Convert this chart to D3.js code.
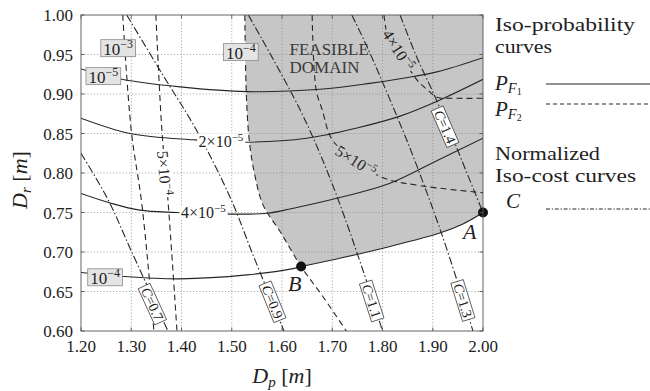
<!DOCTYPE html>
<html>
<head>
<meta charset="utf-8">
<title>Iso-probability and iso-cost curves</title>
<script src="https://cdn.jsdelivr.net/npm/d3@7/dist/d3.min.js"></script>
<style>
  html, body { margin: 0; padding: 0; background: #fff; }
  svg { display: block; font-family: "Liberation Serif", "DejaVu Serif", serif; }
</style>
</head>
<body>
<svg id="chart" width="650" height="391" font-family="Liberation Serif, DejaVu Serif, serif"></svg>
<script>
// ---- axis ticks ----
const dpTicks = [1.20, 1.30, 1.40, 1.50, 1.60, 1.70, 1.80, 1.90, 2.00];
const drTicks = [0.60, 0.65, 0.70, 0.75, 0.80, 0.85, 0.90, 0.95, 1.00];

// ---- iso-probability curves of the first failure mode P_F1, points [Dp, Dr] ----
const pf1_1e5 = [[1.20, 0.9316], [1.281, 0.9186], [1.397, 0.909], [1.530, 0.903], [1.676, 0.906],
                 [1.775, 0.9135], [1.841, 0.920], [1.908, 0.928], [2.00, 0.946]];
const pf1_2e5 = [[1.20, 0.8693], [1.2975, 0.850], [1.4235, 0.842], [1.530, 0.839], [1.649, 0.844],
                 [1.749, 0.857], [1.835, 0.872], [1.911, 0.8915], [2.00, 0.9186]];
const pf1_4e5 = [[1.20, 0.774], [1.258, 0.762], [1.317, 0.753], [1.390, 0.750], [1.497, 0.748],
                 [1.570, 0.749], [1.616, 0.7545], [1.709, 0.768], [1.815, 0.787], [1.911, 0.8165], [2.00, 0.844]];
const pf1_1e4 = [[1.20, 0.674], [1.284, 0.669], [1.397, 0.666], [1.530, 0.671], [1.622, 0.679],
                 [1.638, 0.6816], [1.715, 0.692], [1.815, 0.707], [1.914, 0.724], [1.96, 0.7355], [2.00, 0.75]];

// ---- iso-probability curves of the second failure mode P_F2 ----
const pf2_1e3 = [[1.283, 1.00], [1.300, 0.854], [1.320, 0.766], [1.334, 0.68], [1.345, 0.60]];
const pf2_5e4 = [[1.349, 1.00], [1.361, 0.854], [1.373, 0.766], [1.391, 0.60]];
const pf2_1e4 = [[1.526, 1.00], [1.529, 0.90], [1.535, 0.84], [1.545, 0.80], [1.562, 0.76],
                 [1.598, 0.724], [1.638, 0.6816], [1.682, 0.643], [1.728, 0.60]];
const pf2_5e5 = [[1.660, 1.00], [1.668, 0.905], [1.680, 0.880], [1.700, 0.842], [1.747, 0.816],
                 [1.801, 0.794], [1.875, 0.784], [2.00, 0.775]];
const pf2_4e5 = [[1.803, 1.00], [1.808, 0.980], [1.820, 0.966], [1.834, 0.952], [1.852, 0.933],
                 [1.871, 0.916], [1.890, 0.905], [1.910, 0.8955], [1.94, 0.8946], [2.00, 0.8946]];

// ---- normalized iso-cost curves C ----
const cost07 = [[1.20, 0.825], [1.254, 0.766], [1.301, 0.70], [1.373, 0.60]];
const cost09 = [[1.291, 1.00], [1.362, 0.925], [1.430, 0.854], [1.499, 0.766], [1.540, 0.70], [1.604, 0.60]];
const cost11 = [[1.533, 1.00], [1.636, 0.880], [1.697, 0.791], [1.761, 0.677], [1.800, 0.60]];
const cost13 = [[1.739, 1.00], [1.772, 0.956], [1.848, 0.842], [1.879, 0.791], [1.915, 0.728], [1.961, 0.639], [1.980, 0.60]];
const cost14 = [[1.835, 1.00], [1.866, 0.95], [1.902, 0.90], [1.936, 0.85], [1.968, 0.80], [2.00, 0.75]];

// ---- optimal design points ----
const designPoints = [
  { name: "A", dp: 2.00, dr: 0.75 },
  { name: "B", dp: 1.638, dr: 0.6816 }
];

const pf1Series = [
  { level: 1e-5, pts: pf1_1e5 }, { level: 2e-5, pts: pf1_2e5 },
  { level: 4e-5, pts: pf1_4e5 }, { level: 1e-4, pts: pf1_1e4 }
];
const pf2Series = [
  { level: 1e-3, pts: pf2_1e3 }, { level: 5e-4, pts: pf2_5e4 }, { level: 1e-4, pts: pf2_1e4 },
  { level: 5e-5, pts: pf2_5e5 }, { level: 4e-5, pts: pf2_4e5 }
];
const costSeries = [
  { level: 0.7, pts: cost07 }, { level: 0.9, pts: cost09 }, { level: 1.1, pts: cost11 },
  { level: 1.3, pts: cost13 }, { level: 1.4, pts: cost14 }
];

// ---- layout ----
const svg = d3.select("#chart");
const plot = { left: 81, right: 483, top: 15, bottom: 331 };
const x = d3.scaleLinear().domain([1.2, 2.0]).range([plot.left, plot.right]);
const y = d3.scaleLinear().domain([0.6, 1.0]).range([plot.bottom, plot.top]);

const INK = "#262626";
const FEASIBLE_FILL = "#c6c6c6";
const DASH = "6,4";
const DASHDOT = "8,2.5,1.5,2.5";

svg.append("defs").append("clipPath").attr("id", "plotClip")
  .append("rect").attr("x", plot.left).attr("y", plot.top)
  .attr("width", plot.right - plot.left).attr("height", plot.bottom - plot.top);

const line = d3.line().x(d => x(d[0])).y(d => y(d[1])).curve(d3.curveCatmullRom.alpha(0.5));

const area = svg.append("g").attr("clip-path", "url(#plotClip)");

// feasible domain: right of the P_F2 = 1e-4 curve down to B, above P_F1 = 1e-4 from B to A
const [ptA, ptB] = designPoints;
const iB2 = pf2_1e4.findIndex(p => p[0] === ptB.dp && p[1] === ptB.dr);
const iB1 = pf1_1e4.findIndex(p => p[0] === ptB.dp && p[1] === ptB.dr);
const leftEdge = line(pf2_1e4.slice(0, iB2 + 1));
const lowerEdge = line(pf1_1e4.slice(iB1)).replace(/^M/, "L");
area.append("path")
  .attr("d", leftEdge + lowerEdge + `L${x(2.0)},${y(1.0)}Z`)
  .attr("fill", FEASIBLE_FILL);

// dotted grid
const grid = area.append("g").attr("stroke", "#8c8c8c").attr("stroke-width", 0.8)
  .attr("stroke-dasharray", "1.1,2.1");
grid.selectAll("line.gx").data(dpTicks.slice(1, -1)).join("line")
  .attr("x1", d => x(d)).attr("x2", d => x(d)).attr("y1", plot.top).attr("y2", plot.bottom);
grid.selectAll("line.gy").data(drTicks.slice(1, -1)).join("line")
  .attr("y1", d => y(d)).attr("y2", d => y(d)).attr("x1", plot.left).attr("x2", plot.right);

// curves
const curves = area.append("g").attr("fill", "none").attr("stroke", INK).attr("stroke-width", 1.1);
curves.selectAll("path.pf1").data(pf1Series).join("path").attr("d", d => line(d.pts));
curves.selectAll("path.pf2").data(pf2Series).join("path").attr("d", d => line(d.pts))
  .attr("stroke-dasharray", DASH);
curves.selectAll("path.cost").data(costSeries).join("path").attr("d", d => line(d.pts))
  .attr("stroke-dasharray", DASHDOT);

// ---- curve labels ----
function sciParts(v) {
  const e = Math.floor(Math.log10(v) + 1e-9);
  const m = Math.round(v / Math.pow(10, e));
  return { main: (m === 1 ? "" : m + "×") + "10", exp: "−" + Math.abs(e) };
}

function tangentAngle(pts, px, py) {
  let best = Infinity, ang = 0;
  for (let i = 0; i < pts.length - 1; i++) {
    const x1 = x(pts[i][0]), y1 = y(pts[i][1]), x2 = x(pts[i + 1][0]), y2 = y(pts[i + 1][1]);
    const dx = x2 - x1, dy = y2 - y1;
    const t = Math.max(0, Math.min(1, ((px - x1) * dx + (py - y1) * dy) / (dx * dx + dy * dy)));
    const dist = Math.hypot(x1 + t * dx - px, y1 + t * dy - py);
    if (dist < best) { best = dist; ang = Math.atan2(dy, dx) * 180 / Math.PI; }
  }
  if (ang > 90) ang -= 180;
  if (ang < -90) ang += 180;
  return ang;
}

const labelStyles = {
  box:    { fs: 17, sup: 12, rise: 6.5, base: 6.5, padX: 2.5, h: 17, fill: "#e4e4e4", stroke: "#8a8a8a", sw: 0.8 },
  inline: { fs: 16, sup: 11, rise: 6, base: 5.5, padX: 1.5, h: 15, fill: "#fff", stroke: "none", sw: 0 },
  cost:   { fs: 14, base: 4.8, padX: 2.5, h: 13, fill: "#fff", stroke: "#333", sw: 0.7 }
};

const labelSpecs = [
  { series: pf1Series[0], at: [1.2445, 0.9226], kind: "box" },
  { series: pf1Series[1], at: [1.4786, 0.8405], kind: "inline" },
  { series: pf1Series[2], at: [1.4434, 0.750], kind: "inline" },
  { series: pf1Series[3], at: [1.248, 0.668], kind: "box" },
  { series: pf2Series[0], at: [1.274, 0.958], kind: "box" },
  { series: pf2Series[1], at: [1.366, 0.800], kind: "inline", rotate: true },
  { series: pf2Series[2], at: [1.518, 0.953], kind: "box" },
  { series: pf2Series[3], at: [1.747, 0.815], kind: "inline", rotate: true, bg: FEASIBLE_FILL },
  { series: pf2Series[4], at: [1.8315, 0.9557], kind: "inline", rotate: true, bg: FEASIBLE_FILL },
  { series: costSeries[0], at: [1.342, 0.634], kind: "cost", rotate: true },
  { series: costSeries[1], at: [1.581, 0.637], kind: "cost", rotate: true },
  { series: costSeries[2], at: [1.7785, 0.638], kind: "cost", rotate: true },
  { series: costSeries[3], at: [1.960, 0.6386], kind: "cost", rotate: true },
  { series: costSeries[4], at: [1.9244, 0.8586], kind: "cost", rotate: true }
];

const labelLayer = svg.append("g");
labelSpecs.forEach(spec => {
  const st = labelStyles[spec.kind];
  const px = x(spec.at[0]), py = y(spec.at[1]);
  const ang = spec.rotate ? tangentAngle(spec.series.pts, px, py) : 0;
  const g = labelLayer.append("g").attr("transform", `translate(${px},${py}) rotate(${ang})`);
  const rect = g.append("rect");
  const t = g.append("text").attr("text-anchor", "middle").attr("font-size", st.fs)
    .attr("y", st.base).attr("fill", "#1e1e1e");
  if (spec.kind === "cost") {
    t.append("tspan").attr("font-style", "italic").text("C");
    t.append("tspan").text("=" + spec.series.level.toFixed(1));
  } else {
    const p = sciParts(spec.series.level);
    t.append("tspan").text(p.main);
    t.append("tspan").attr("font-size", st.sup).attr("dy", -st.rise).text(p.exp);
  }
  const bb = t.node().getBBox();
  rect.attr("x", bb.x - st.padX).attr("width", bb.width + 2 * st.padX)
    .attr("y", -st.h / 2).attr("height", st.h)
    .attr("fill", spec.bg || st.fill).attr("stroke", st.stroke).attr("stroke-width", st.sw);
});

// feasible domain caption
const cap = svg.append("text").attr("x", x(1.615)).attr("y", y(0.9495))
  .attr("font-size", 17).attr("fill", "#3a3a3a");
cap.append("tspan").text("FEASIBLE");
cap.append("tspan").attr("x", x(1.615)).attr("dy", 18).text("DOMAIN");

// design points A and B
const markOffsets = { A: [-20, 26], B: [-13, 24] };
const marks = svg.append("g");
marks.selectAll("circle").data(designPoints).join("circle")
  .attr("cx", d => x(d.dp)).attr("cy", d => y(d.dr)).attr("r", 5).attr("fill", "#111");
marks.selectAll("text").data(designPoints).join("text")
  .attr("x", d => x(d.dp) + markOffsets[d.name][0]).attr("y", d => y(d.dr) + markOffsets[d.name][1])
  .attr("font-size", 22).attr("font-style", "italic").attr("fill", "#222").text(d => d.name);

// frame and inward ticks
const axis = svg.append("g").attr("stroke", "#555").attr("stroke-width", 0.9);
axis.append("rect").attr("x", plot.left).attr("y", plot.top)
  .attr("width", plot.right - plot.left).attr("height", plot.bottom - plot.top).attr("fill", "none");
const TK = 3.5;
axis.selectAll("line.tb").data(dpTicks).join("line")
  .attr("x1", d => x(d)).attr("x2", d => x(d)).attr("y1", plot.bottom).attr("y2", plot.bottom - TK);
axis.selectAll("line.tt").data(dpTicks).join("line")
  .attr("x1", d => x(d)).attr("x2", d => x(d)).attr("y1", plot.top).attr("y2", plot.top + TK);
axis.selectAll("line.tl").data(drTicks).join("line")
  .attr("y1", d => y(d)).attr("y2", d => y(d)).attr("x1", plot.left).attr("x2", plot.left + TK);
axis.selectAll("line.tr").data(drTicks).join("line")
  .attr("y1", d => y(d)).attr("y2", d => y(d)).attr("x1", plot.right).attr("x2", plot.right - TK);

// tick labels
const tickText = svg.append("g").attr("font-size", 17).attr("fill", "#222");
tickText.selectAll("text.xt").data(dpTicks).join("text")
  .attr("x", d => x(d)).attr("y", 352).attr("text-anchor", "middle").text(d => d.toFixed(2));
tickText.selectAll("text.yt").data(drTicks).join("text")
  .attr("x", 73).attr("y", d => y(d) + 6).attr("text-anchor", "end").text(d => d.toFixed(2));

// axis titles
const xt = svg.append("text").attr("x", (plot.left + plot.right) / 2).attr("y", 383)
  .attr("text-anchor", "middle").attr("font-size", 22).attr("fill", "#222");
xt.append("tspan").attr("font-style", "italic").text("D");
xt.append("tspan").attr("font-style", "italic").attr("font-size", 15).attr("dy", 4).text("p");
xt.append("tspan").attr("dy", -4).text(" [");
xt.append("tspan").attr("font-style", "italic").text("m");
xt.append("tspan").text("]");

const yt = svg.append("text").attr("transform", `translate(27,${(plot.top + plot.bottom) / 2 + 7}) rotate(-90)`)
  .attr("text-anchor", "middle").attr("font-size", 22).attr("fill", "#222");
yt.append("tspan").attr("font-style", "italic").text("D");
yt.append("tspan").attr("font-style", "italic").attr("font-size", 15).attr("dy", 4).text("r");
yt.append("tspan").attr("dy", -4).text(" [");
yt.append("tspan").attr("font-style", "italic").text("m");
yt.append("tspan").text("]");

// legend: a slightly condensed size, widened to the column so the lines stay clear of each other
const lg = svg.append("g").attr("font-size", 19.5).attr("fill", "#222");
const LX = 495, L1 = 546, L2 = 650;
const legendLine = (txt, base, width) => lg.append("text").attr("x", LX).attr("y", base)
  .attr("textLength", width).attr("lengthAdjust", "spacingAndGlyphs").text(txt);

legendLine("Iso-probability", 31, 140);
legendLine("curves", 53, 57);

[[90, "1", 84, null], [116, "2", 104, "4,3"]].forEach(([base, idx, ly, dash]) => {
  const t = lg.append("text").attr("x", LX).attr("y", base).attr("font-size", 21);
  t.append("tspan").attr("font-style", "italic").text("P");
  t.append("tspan").attr("font-style", "italic").attr("font-size", 14.5).attr("dy", 3).text("F");
  t.append("tspan").attr("font-size", 10).attr("dy", 2).text(idx);
  lg.append("line").attr("x1", L1).attr("x2", L2).attr("y1", ly).attr("y2", ly)
    .attr("stroke", INK).attr("stroke-width", 1.1).attr("stroke-dasharray", dash);
});

legendLine("Normalized", 160, 105);
legendLine("Iso-cost curves", 182, 141);

lg.append("text").attr("x", 506).attr("y", 208).attr("font-size", 21).attr("font-style", "italic").text("C");
lg.append("line").attr("x1", L1).attr("x2", L2).attr("y1", 209).attr("y2", 209)
  .attr("stroke", INK).attr("stroke-width", 1.1).attr("stroke-dasharray", "4,1.8,1.2,1.8");
</script>
</body>
</html>
